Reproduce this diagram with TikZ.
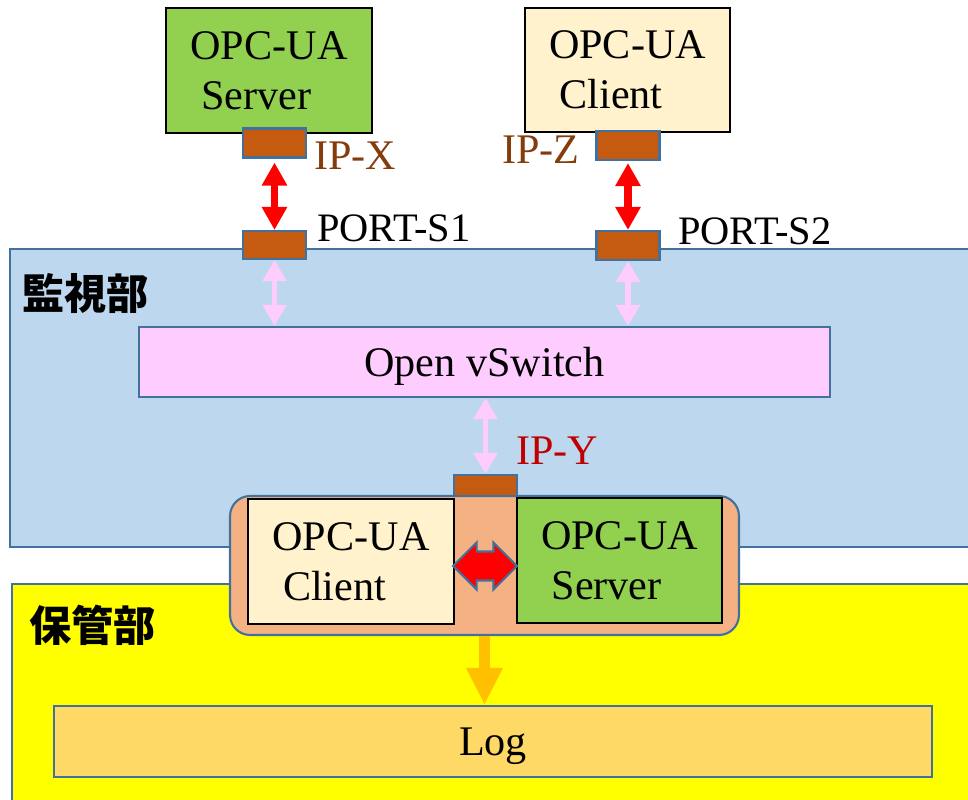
\documentclass[tikz,border=0pt]{standalone}
\usepackage{fontspec}
\setmainfont{Liberation Serif}
\newfontfamily\cjk{Noto Sans CJK JP}
\usetikzlibrary{arrows.meta,shapes.arrows}
\definecolor{edge}{HTML}{41719C}
\definecolor{portbrown}{HTML}{C55A11}
\definecolor{srvgreen}{HTML}{92D050}
\definecolor{cream}{HTML}{FFF2CC}
\definecolor{monblue}{HTML}{BDD7EE}
\definecolor{storeyellow}{HTML}{FFFF00}
\definecolor{pinkish}{HTML}{FFCCFF}
\definecolor{peach}{HTML}{F4B183}
\definecolor{logyellow}{HTML}{FFD966}
\definecolor{amber}{HTML}{FFC000}
\definecolor{rust}{HTML}{843C0C}
\definecolor{darkred}{HTML}{C00000}
\begin{document}
\begin{tikzpicture}[x=0.02cm, y=-0.02cm,
  box/.style={draw=black, line width=1.1pt, inner sep=0pt, align=left,
    minimum width=4.12cm, minimum height=2.5cm,
    font=\fontsize{24}{28.5}\selectfont},
  port/.style={draw=edge, fill=portbrown, line width=1.2pt, inner sep=0pt,
    minimum width=1.26cm, minimum height=0.58cm},
  lane/.style={draw=edge, line width=1.2pt},
  tag/.style={inner sep=0pt, font=\fontsize{24}{28}\selectfont},
  link/.style={red, line width=4.5pt, >={Triangle[width=0.48cm,length=0.46cm]}, <->},
  vlink/.style={pinkish, line width=3pt, >={Triangle[width=0.46cm,length=0.42cm]}, <->},
  feed/.style={amber, line width=6.8pt, -{Triangle[width=0.68cm,length=0.74cm]}}]
\useasboundingbox (0,0) rectangle (968,800);

% the two parts
\draw[lane, fill=monblue] (10,249) rectangle (990,547);
\draw[lane, fill=storeyellow] (12,584) rectangle (990,820);
\node[tag, anchor=west, font=\cjk\bfseries\fontsize{24}{28}\selectfont] (monlbl) at (22,294) {監視部};
\node[tag, anchor=west, font=\cjk\bfseries\fontsize{24}{28}\selectfont] (storelbl) at (29,625) {保管部};

% outside server and client
\node[box, fill=srvgreen] (srvtop) at (269,70.5) {OPC-UA\\\hspace*{.25em}Server};
\node[box, fill=cream, minimum width=4.1cm, minimum height=2.48cm] (clitop) at (627.5,70) {OPC-UA\\\hspace*{.25em}Client};
\node[port] (ipx) at (274.5,143) {};
\node[port, minimum height=0.56cm] (ps1) at (274.5,245) {};
\node[port] (ipz) at (628,145.5) {};
\node[port] (ps2) at (628,245.5) {};
\node[tag, anchor=base west, text=rust] (ipxlbl) at (314,170) {IP-X};
\node[tag, anchor=base west, font=\fontsize{23}{27}\selectfont] (ps1lbl) at (317,242) {PORT-S1};
\node[tag, anchor=base west, text=rust] (ipzlbl) at (502,164) {IP-Z};
\node[tag, anchor=base west, font=\fontsize{23}{27}\selectfont] (ps2lbl) at (678,245) {PORT-S2};

\node[lane, fill=pinkish, minimum width=13.82cm, minimum height=1.4cm, text depth=0pt,
  font=\fontsize{24}{28}\selectfont] (ovs) at (484.5,362) {Open vSwitch};

% gateway: client and server side by side
\node[lane, fill=peach, rounded corners=0.4cm, minimum width=10.18cm, minimum height=2.78cm] (unit) at (484.5,565.5) {};
\node[box, fill=cream, line width=0.9pt] (clibot) at (351,561.5) {OPC-UA\\\hspace*{.25em}Client};
\node[box, fill=srvgreen, line width=0.9pt, minimum width=4.1cm] (srvbot) at (619.5,560.5) {OPC-UA\\\hspace*{.25em}Server};
\node[port, minimum height=0.42cm] (ipy) at (485.5,485.5) {};
\node[tag, anchor=base west, text=darkred] (ipylbl) at (516,465) {IP-Y};
\node[double arrow, fill=red, draw=edge, line width=1.2pt, minimum height=1.28cm,
  inner xsep=0pt, inner ysep=0.27cm, double arrow head extend=0.18cm] (swap) at (485,566) {};

\node[lane, fill=logyellow, minimum width=17.56cm, minimum height=1.42cm, text depth=0pt,
  font=\fontsize{24}{28}\selectfont] (log) at (493,741.5) {Log};

% links
\draw[link, shorten <=0.08cm] (ipx.south) -- (ps1.north);
\draw[link, shorten <=0.04cm] (ipz.south) -- (ps2.north);
\draw[vlink] (ps1.south) -- (ps1.south |- ovs.north);
\draw[vlink] (ps2.south) -- (ps2.south |- ovs.north);
\draw[vlink] (ovs.south -| ipy.north) -- (ipy.north);
\draw[feed] (unit.south) -- (unit.south |- log.north);
\end{tikzpicture}
\end{document}
